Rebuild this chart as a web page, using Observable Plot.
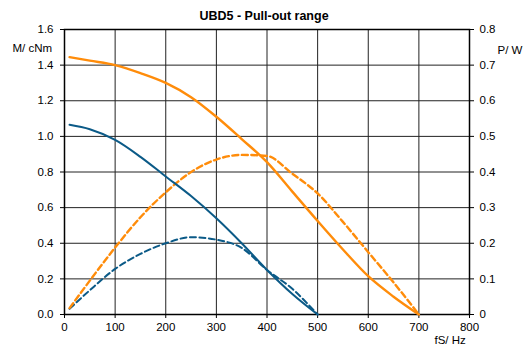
<!DOCTYPE html>
<html>
<head>
<meta charset="utf-8">
<script src="https://cdn.jsdelivr.net/npm/d3@7"></script>
<script src="https://cdn.jsdelivr.net/npm/@observablehq/plot@0.6"></script>
<style>
  html, body { margin: 0; padding: 0; background: #fff; }
  svg { display: block; }
</style>
</head>
<body>
<div id="chart"></div>
<script>
const title = "UBD5 - Pull-out range";
const leftLabel = "M/ cNm";
const rightLabel = "P/ W";
const xLabel = "fS/ Hz";

const xTicks = [0, 100, 200, 300, 400, 500, 600, 700, 800];
const yTicksM = [0, 0.2, 0.4, 0.6, 0.8, 1.0, 1.2, 1.4, 1.6];

// Orange motor (to 700 Hz)
const freqOrange = [10, 50, 100, 150, 200, 250, 300, 350, 400, 450, 500, 550, 600, 650, 700];
const torqueOrange = [1.445, 1.425, 1.40, 1.355, 1.30, 1.22, 1.11, 0.985, 0.855, 0.69, 0.525, 0.365, 0.215, 0.10, 0];
const powerOrange = [0.018, 0.095, 0.188, 0.273, 0.343, 0.40, 0.435, 0.448, 0.445, 0.395, 0.34, 0.26, 0.175, 0.09, 0];

// Blue motor (to 500 Hz)
const freqBlue = [10, 50, 100, 150, 200, 250, 300, 350, 400, 450, 500];
const torqueBlue = [1.065, 1.04, 0.98, 0.885, 0.775, 0.665, 0.54, 0.40, 0.25, 0.115, 0];
const powerBlue = [0.016, 0.068, 0.128, 0.17, 0.20, 0.217, 0.21, 0.187, 0.125, 0.072, 0];

const orange = "#ff8c0a";
const blue = "#0b5a87";

// ratio of left (M) scale to right (P) scale: 1.6 / 0.8
const ratio = 2;

const mk = (fs, vs) => fs.map((f, i) => ({f, v: vs[i]}));
const oM = mk(freqOrange, torqueOrange);
const oP = mk(freqOrange, powerOrange);
const bM = mk(freqBlue, torqueBlue);
const bP = mk(freqBlue, powerBlue);

const curve = "monotone-x";

const chart = Plot.plot({
  width: 529,
  height: 347,
  marginLeft: 64,
  marginRight: 60,
  marginTop: 29,
  marginBottom: 33,
  style: {fontFamily: "'Liberation Sans', Arial, sans-serif", fontSize: "11.5px", color: "#000", background: "#fff"},
  x: {domain: [0, 800]},
  y: {domain: [0, 1.6]},
  marks: [
    Plot.gridX(xTicks, {stroke: "#222", strokeOpacity: 1, strokeWidth: 1}),
    Plot.gridY(yTicksM, {stroke: "#222", strokeOpacity: 1, strokeWidth: 1}),
    Plot.axisX(xTicks, {tickSize: 4, tickPadding: 4, label: null, tickFormat: d => String(d)}),
    Plot.axisY(yTicksM, {anchor: "left", tickSize: 4, tickPadding: 7, label: null, tickFormat: d => d.toFixed(1)}),
    Plot.axisY(yTicksM, {anchor: "right", tickSize: 4, tickPadding: 6, label: null,
      tickFormat: d => d === 0 ? "0" : (d / ratio).toFixed(1)}),
    Plot.frame({stroke: "#000", strokeWidth: 1.5}),
    Plot.line(bP, {x: "f", y: d => d.v * ratio, stroke: blue, strokeWidth: 2, strokeDasharray: "6,3.5", curve}),
    Plot.line(oP, {x: "f", y: d => d.v * ratio, stroke: orange, strokeWidth: 2.4, strokeDasharray: "6,3.5", curve}),
    Plot.line(bM, {x: "f", y: "v", stroke: blue, strokeWidth: 2, curve}),
    Plot.line(oM, {x: "f", y: "v", stroke: orange, strokeWidth: 2.4, curve}),
    Plot.text([title], {frameAnchor: "top", dx: -3, dy: -10, fontWeight: "bold", fontSize: 12.5, lineAnchor: "bottom"}),
    Plot.text([leftLabel], {frameAnchor: "top-left", dx: -52, dy: 22, textAnchor: "start", lineAnchor: "bottom", fontSize: 11.5}),
    Plot.text([rightLabel], {frameAnchor: "top-right", dx: 28, dy: 24, textAnchor: "start", lineAnchor: "bottom", fontSize: 11.5}),
    Plot.text([xLabel], {frameAnchor: "bottom-right", dx: -35, dy: 29, textAnchor: "start", lineAnchor: "bottom", fontSize: 11.5})
  ]
});

document.getElementById("chart").appendChild(chart);
</script>
</body>
</html>
